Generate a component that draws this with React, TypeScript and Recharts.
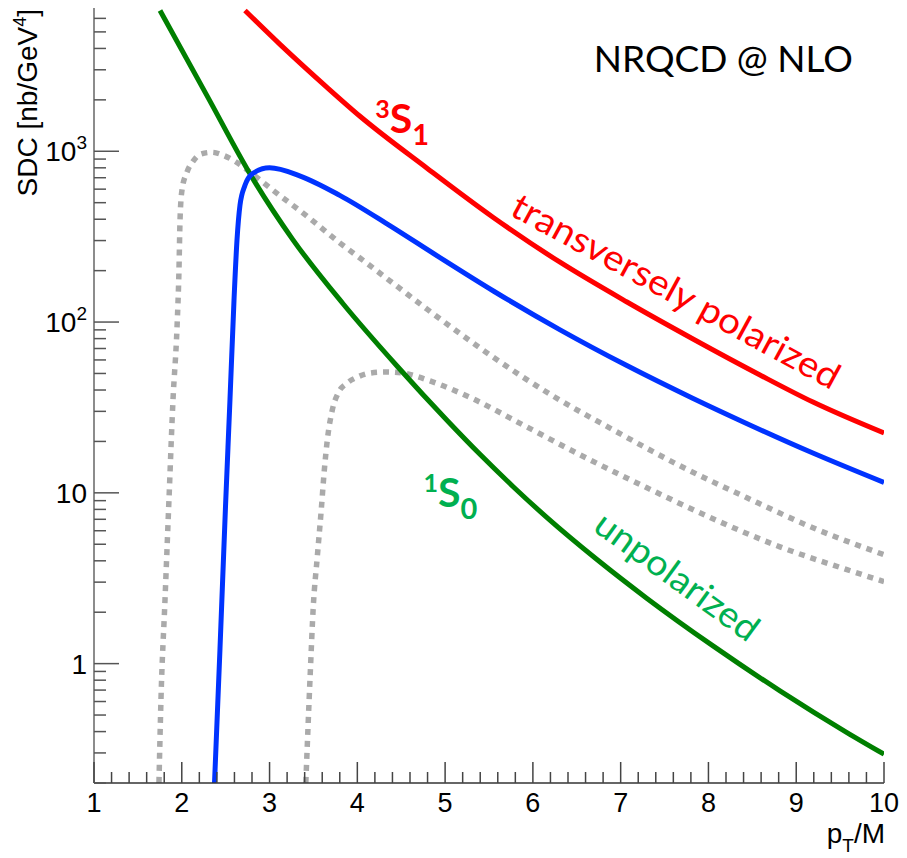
import React from 'react';
import { LineChart, Line, XAxis, YAxis, ReferenceDot } from 'recharts';

// pT/M on x, SDC in nb/GeV^4 on y (log)
const xMajorTicks = [1, 2, 3, 4, 5, 6, 7, 8, 9, 10];
const xMinorSteps = [0.2, 0.4, 0.6, 0.8];
const yMajorTicks = [1, 10, 100, 1000];
const yDecades = [0.1, 1, 10, 100, 1000];
const yMinorSteps = [2, 3, 4, 5, 6, 7, 8, 9];
const yTickLabels: Record<number, [string, string]> = {
  1: ['1', ''],
  10: ['10', ''],
  100: ['10', '2'],
  1000: ['10', '3'],
};
const yDomain = [0.2, 6900];

// 3S1 transversely polarized (red)
const s31Transverse: [number, number][] = [
  [2.72, 6670], [3.119, 4225], [3.654, 2367], [4.03, 1603], [4.794, 796], [5.545, 411],
  [6.309, 224], [7.072, 131], [7.824, 79.6], [8.587, 49], [9.191, 34], [10, 22.4],
];
// blue
const s31Total: [number, number][] = [
  [2.373, 0.2], [2.435, 1.21], [2.498, 8.28], [2.549, 35], [2.595, 134.5], [2.629, 302],
  [2.663, 483], [2.72, 632], [2.811, 743], [3.0, 800], [3.35, 716], [3.8, 552],
  [4.37, 367], [4.91, 244], [5.55, 152], [6.31, 90], [7.07, 55.6], [7.82, 35.8],
  [8.44, 25.4], [9.19, 17.1], [10, 11.5],
];
// 1S0 unpolarized (green)
const s10Unpolarized: [number, number][] = [
  [1.752, 6670], [2.287, 2118], [2.823, 673], [3.267, 303], [3.837, 128], [4.452, 55.3],
  [5.021, 26.6], [5.397, 16.8], [5.773, 10.9], [6.161, 7.16], [6.73, 4.07], [7.3, 2.41],
  [8.052, 1.27], [8.815, 0.693], [9.578, 0.395], [10, 0.295],
];
// grey dotted, upper
const dottedUpper: [number, number][] = [
  [1.74, 0.2], [1.763, 0.616], [1.809, 2.37], [1.854, 9.1], [1.9, 35], [1.946, 93.5],
  [1.968, 201], [1.98, 394], [2.002, 591], [2.059, 754], [2.128, 873], [2.208, 959],
  [2.344, 986], [2.47, 948], [2.606, 874], [2.777, 754], [3.039, 591], [3.427, 417],
  [3.803, 290], [4.03, 237], [4.452, 162], [4.794, 119], [5.318, 75.4], [5.545, 62.4],
  [6.229, 36.9], [6.913, 23.4], [7.676, 14.4], [8.439, 9.35], [9.191, 6.24], [10, 4.34],
];
// grey dotted, lower
const dottedLower: [number, number][] = [
  [3.413, 0.2], [3.464, 0.886], [3.498, 2.15], [3.544, 4.23], [3.589, 7.96], [3.624, 13.6],
  [3.658, 20.4], [3.715, 30.6], [3.783, 38.5], [3.886, 44], [4.0, 47.6], [4.148, 50.3],
  [4.319, 51], [4.513, 50.3], [4.828, 45.2], [5.318, 35.5], [5.887, 25], [6.537, 16.7],
  [7.3, 10.7], [8.052, 7.05], [8.815, 4.83], [9.578, 3.55], [10, 3.02],
];

const toRows = (pts: [number, number][]) => pts.map(([x, y]) => ({ x, y }));

const xTicks = [
  ...xMajorTicks,
  ...xMajorTicks.slice(0, -1).flatMap((m) => xMinorSteps.map((s) => +(m + s).toFixed(1))),
].sort((a, b) => a - b);

const yTicks = [
  ...yMajorTicks,
  ...yDecades.flatMap((d) => yMinorSteps.map((s) => +(d * s).toPrecision(2))),
]
  .filter((v) => v >= yDomain[0] && v <= yDomain[1])
  .sort((a, b) => a - b);

const axisFont = '"Liberation Sans", Arial, sans-serif';
const noteFont = 'Lato, "Open Sans", sans-serif';

const XTick = (props: any) => {
  const { x, y, payload } = props;
  const major = xMajorTicks.includes(payload.value);
  return (
    <g>
      <line x1={x} x2={x} y1={y} y2={y - (major ? 21 : 11)} stroke="#444" strokeWidth={1.5} />
      {major && (
        <text x={x} y={y + 29} textAnchor="middle" fontSize={27} fontFamily={axisFont} fill="#000">
          {payload.value}
        </text>
      )}
    </g>
  );
};

const YTick = (props: any) => {
  const { x, y, payload } = props;
  const lab = yTickLabels[payload.value];
  return (
    <g>
      <line x1={x} x2={x + (lab ? 25 : 12)} y1={y} y2={y} stroke="#555" strokeWidth={1.5} />
      {lab && (
        <text x={x - 7} y={y + 10} textAnchor="end" fontSize={28} fontFamily={axisFont} fill="#000">
          {lab[0]}
          {lab[1] && (
            <tspan fontSize={19} dy={-12}>
              {lab[1]}
            </tspan>
          )}
        </text>
      )}
    </g>
  );
};

const YTitle = (props: any) => {
  const { x, y } = props.viewBox;
  const tx = x + 37;
  const ty = y + 1;
  return (
    <text
      x={tx}
      y={ty}
      transform={`rotate(-90, ${tx}, ${ty})`}
      textAnchor="end"
      fontSize={28}
      fontFamily={axisFont}
      fill="#000"
    >
      SDC [nb/GeV
      <tspan fontSize={18} dy={-11}>4</tspan>
      <tspan dy={11}>]</tspan>
    </text>
  );
};

const XTitle = (props: any) => {
  const { x, y, width } = props.viewBox;
  return (
    <text x={x + width + 1} y={y + 60} textAnchor="end" fontSize={28} fontFamily={axisFont} fill="#000">
      p
      <tspan fontSize={19} dy={9}>T</tspan>
      <tspan dy={-9}>/M</tspan>
    </text>
  );
};

const Term = ({ cx, cy, sup, sub, color }: any) => (
  <text x={cx} y={cy} fontFamily={noteFont} fontWeight="bold" fill={color}>
    <tspan fontSize={25} dy={-15}>{sup}</tspan>
    <tspan fontSize={41} dy={15}>S</tspan>
    <tspan fontSize={29} dy={12}>{sub}</tspan>
  </text>
);

const Slanted = ({ cx, cy, angle, text, len, color }: any) => (
  <text
    x={cx}
    y={cy}
    transform={`rotate(${angle}, ${cx}, ${cy})`}
    fontFamily={noteFont}
    fontSize={36}
    fill={color}
    textLength={len}
    lengthAdjust="spacingAndGlyphs"
  >
    {text}
  </text>
);

export default function App() {
  return (
    <div style={{ position: 'absolute', left: 0, top: 0, background: '#fff' }}>
      <LineChart width={907} height={858} margin={{ top: 8, right: 23, left: 0, bottom: 0 }}>
        <XAxis
          dataKey="x"
          type="number"
          domain={[1, 10]}
          ticks={xTicks}
          interval={0}
          height={75}
          tickSize={0}
          tickMargin={0}
          tickLine={false}
          tick={<XTick />}
          axisLine={{ stroke: '#333', strokeWidth: 1.5 }}
          allowDataOverflow
          label={(p: any) => <XTitle {...p} />}
        />
        <XAxis
          xAxisId="top"
          orientation="top"
          type="number"
          domain={[1, 10]}
          height={0}
          tick={false}
          tickLine={false}
          axisLine={{ stroke: '#111', strokeWidth: 1.5 }}
        />
        <YAxis
          type="number"
          scale="log"
          domain={yDomain}
          ticks={yTicks}
          interval={0}
          width={94}
          tickSize={0}
          tickMargin={0}
          tickLine={false}
          tick={<YTick />}
          axisLine={{ stroke: '#666', strokeWidth: 1.5 }}
          allowDataOverflow
          label={(p: any) => <YTitle {...p} />}
        />
        <YAxis
          yAxisId="right"
          orientation="right"
          type="number"
          scale="log"
          domain={yDomain}
          width={0}
          tick={false}
          tickLine={false}
          axisLine={{ stroke: '#777', strokeWidth: 1.5 }}
          allowDataOverflow
        />
        <Line data={toRows(dottedUpper)} dataKey="y" type="monotone" stroke="#aaaaaa" strokeWidth={5.5} strokeDasharray="6 6" dot={false} activeDot={false} isAnimationActive={false} />
        <Line data={toRows(dottedLower)} dataKey="y" type="monotone" stroke="#aaaaaa" strokeWidth={5.5} strokeDasharray="6 6" dot={false} activeDot={false} isAnimationActive={false} />
        <Line data={toRows(s10Unpolarized)} dataKey="y" type="monotone" stroke="#007f00" strokeWidth={5} dot={false} activeDot={false} isAnimationActive={false} />
        <Line data={toRows(s31Total)} dataKey="y" type="monotone" stroke="#0033ff" strokeWidth={5} dot={false} activeDot={false} isAnimationActive={false} />
        <Line data={toRows(s31Transverse)} dataKey="y" type="monotone" stroke="#ff0000" strokeWidth={5} dot={false} activeDot={false} isAnimationActive={false} />

        <ReferenceDot
          x={9.646}
          y={2900}
          r={0}
          shape={(p: any) => (
            <text x={p.cx} y={p.cy} textAnchor="end" fontFamily={noteFont} fontSize={37} fill="#000">
              NRQCD @ NLO
            </text>
          )}
        />
        <ReferenceDot x={4.205} y={1274} r={0} shape={(p: any) => <Term {...p} sup="3" sub="1" color="#ff0000" />} />
        <ReferenceDot x={4.753} y={8.28} r={0} shape={(p: any) => <Term {...p} sup="1" sub="0" color="#00b050" />} />
        <ReferenceDot
          x={5.72}
          y={428}
          r={0}
          shape={(p: any) => <Slanted {...p} angle={28.6} text="transversely polarized" len={368} color="#ff0000" />}
        />
        <ReferenceDot
          x={6.669}
          y={6.08}
          r={0}
          shape={(p: any) => <Slanted {...p} angle={36} text="unpolarized" len={193} color="#00b050" />}
        />
      </LineChart>
    </div>
  );
}
